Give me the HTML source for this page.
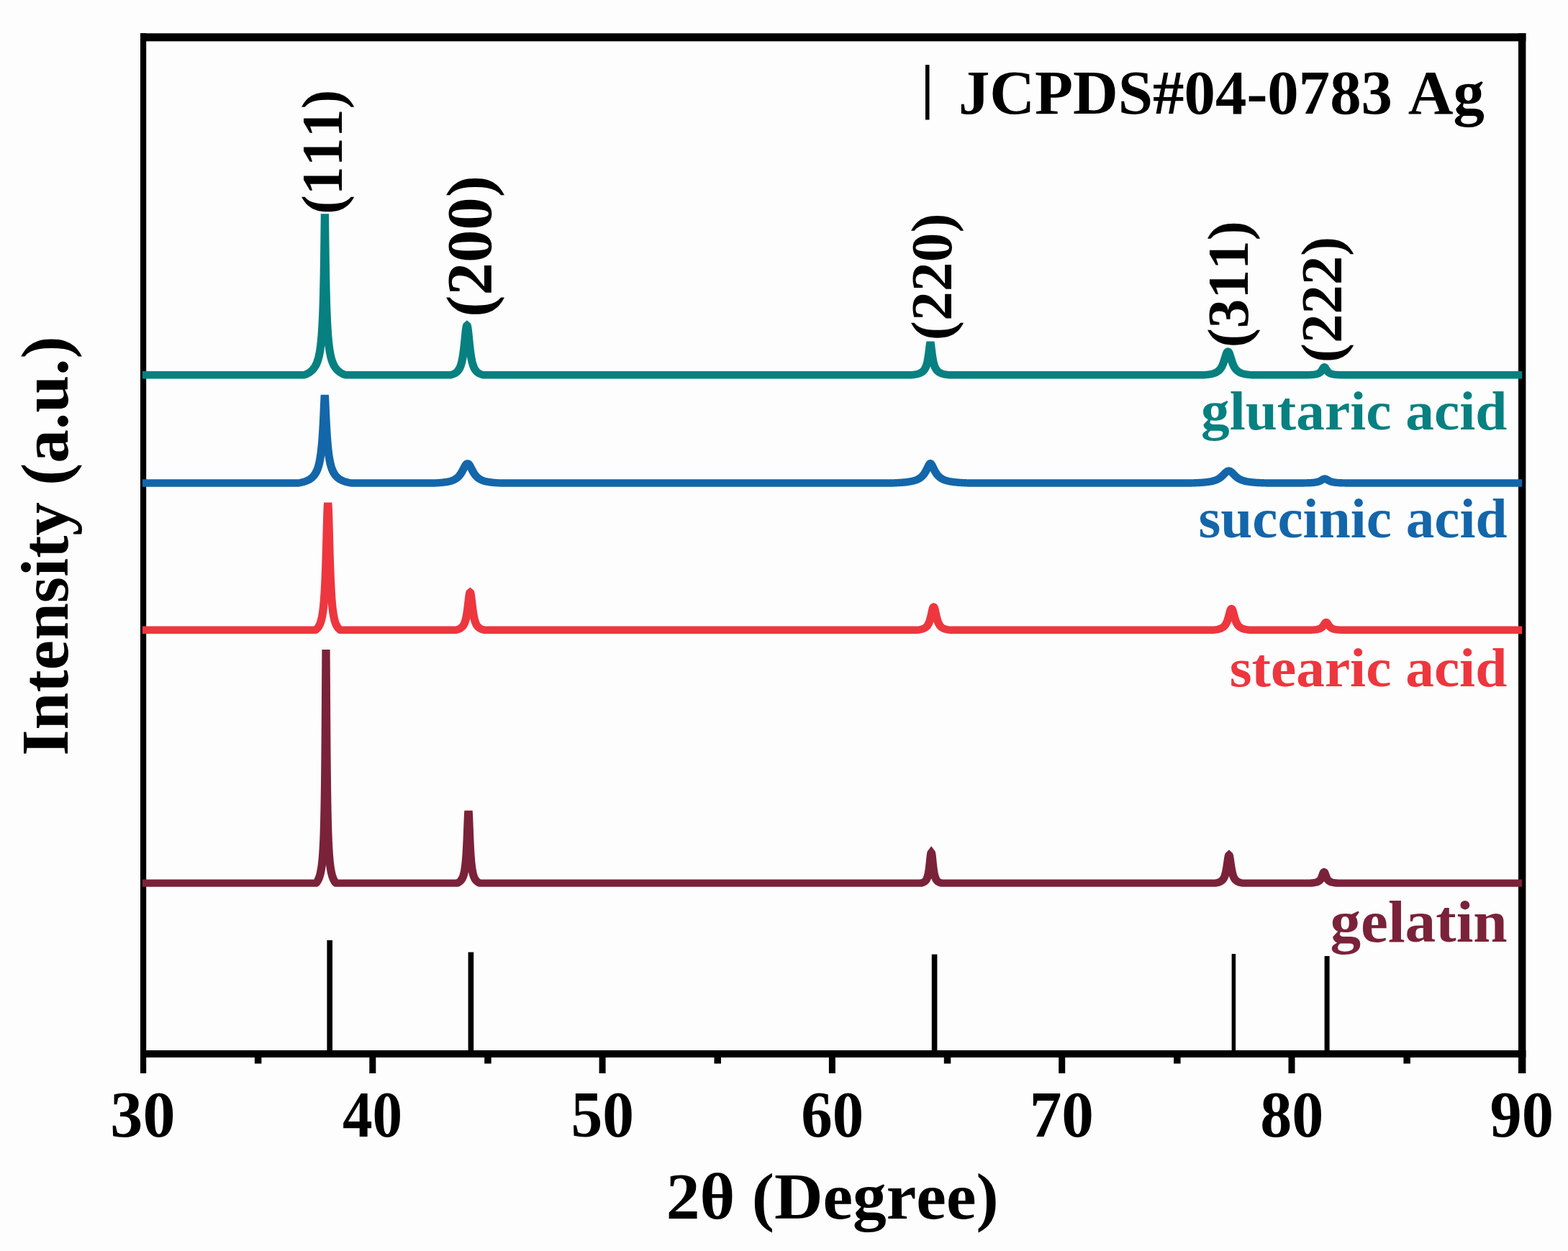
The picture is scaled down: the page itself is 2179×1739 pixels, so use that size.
<!DOCTYPE html>
<html lang="en">
<head>
<meta charset="utf-8">
<title>XRD patterns</title>
<style>
html,body{margin:0;padding:0;background:#fdfdfd;}
body{width:2179px;height:1739px;overflow:hidden;}
svg{display:block;}
svg text{font-family:"Liberation Serif", serif;font-weight:bold;font-size:100px;font-kerning:none;font-variant-ligatures:none;white-space:pre;}
</style>
</head>
<body>
<svg width="2179" height="1739" viewBox="0 0 2179 1739">
<rect width="2179" height="1739" fill="#fdfdfd"/>
<rect x="454.4" y="1307" width="7.6" height="155" fill="#000"/>
<rect x="650.6" y="1323.6" width="7.6" height="138.4" fill="#000"/>
<rect x="1294.8" y="1326.6" width="7.6" height="135.4" fill="#000"/>
<rect x="1711.65" y="1326" width="5.5" height="136" fill="#000"/>
<rect x="1840.6" y="1329" width="7" height="133" fill="#000"/>
<rect x="1286" y="90.1" width="5.5" height="76.4" fill="#000"/>
<rect x="195" y="46.3" width="8.2" height="1445.7" fill="#000"/>
<rect x="2110" y="46.3" width="10.4" height="1445.7" fill="#000"/>
<rect x="195" y="46.3" width="1925.4" height="11.1" fill="#000"/>
<rect x="195" y="1460" width="1925.4" height="10" fill="#000"/>
<rect x="513.3" y="1460" width="9" height="32" fill="#000"/>
<rect x="832.6" y="1460" width="9" height="32" fill="#000"/>
<rect x="1151.9" y="1460" width="9" height="32" fill="#000"/>
<rect x="1471.2" y="1460" width="9" height="32" fill="#000"/>
<rect x="1790.5" y="1460" width="9" height="32" fill="#000"/>
<rect x="353.9" y="1460" width="9.5" height="18.5" fill="#000"/>
<rect x="673.2" y="1460" width="9.5" height="18.5" fill="#000"/>
<rect x="992.5" y="1460" width="9.5" height="18.5" fill="#000"/>
<rect x="1311.8" y="1460" width="9.5" height="18.5" fill="#000"/>
<rect x="1631.1" y="1460" width="9.5" height="18.5" fill="#000"/>
<rect x="1950.4" y="1460" width="9.5" height="18.5" fill="#000"/>
<path d="M183.33 521.2 L391.11 521.2 L392.04 521.05 L392.96 520.66 L393.89 520.23 L394.81 519.77 L395.74 519.27 L396.67 518.72 L397.59 518.12 L398.52 517.46 L399.44 516.74 L400.37 515.94 L401.3 515.05 L402.22 514.05 L403.15 512.93 L404.07 511.65 L405 510.2 L405.93 508.53 L406.85 506.59 L407.08 506.05 L407.31 505.49 L407.55 504.91 L407.78 504.3 L408.01 503.67 L408.24 503.01 L408.47 502.31 L408.7 501.59 L408.94 500.83 L409.17 500.03 L409.4 499.19 L409.63 498.31 L409.86 497.38 L410.09 496.4 L410.32 495.37 L410.56 494.28 L410.79 493.12 L411.02 491.9 L411.25 490.6 L411.48 489.22 L411.71 487.75 L411.94 486.18 L412.18 484.5 L412.41 482.71 L412.64 480.78 L412.87 478.71 L413.1 476.48 L413.33 474.07 L413.56 471.45 L413.8 468.61 L414.03 465.52 L414.26 462.13 L414.49 458.42 L414.72 454.32 L414.95 449.8 L415.19 444.78 L415.42 439.17 L415.65 432.89 L415.88 425.81 L416.11 417.8 L416.34 408.68 L416.57 398.23 L416.81 386.21 L417.04 372.33 L417.27 356.28 L417.5 337.86 L417.73 317.25 L417.96 297.37 L418.19 317.25 L418.43 337.86 L418.66 356.28 L418.89 372.33 L419.12 386.21 L419.35 398.23 L419.58 408.68 L419.81 417.8 L420.05 425.81 L420.28 432.89 L420.51 439.17 L420.74 444.78 L420.97 449.8 L421.2 454.32 L421.44 458.42 L421.67 462.13 L421.9 465.52 L422.13 468.61 L422.36 471.45 L422.59 474.07 L422.82 476.48 L423.06 478.71 L423.29 480.78 L423.52 482.71 L423.75 484.5 L423.98 486.18 L424.21 487.75 L424.44 489.22 L424.68 490.6 L424.91 491.9 L425.14 493.12 L425.37 494.28 L425.6 495.37 L425.83 496.4 L426.06 497.38 L426.3 498.31 L426.53 499.19 L426.76 500.03 L426.99 500.83 L427.22 501.59 L427.45 502.31 L427.69 503.01 L427.92 503.67 L428.15 504.3 L428.38 504.91 L428.61 505.49 L428.84 506.05 L429.07 506.59 L430 508.53 L430.93 510.2 L431.85 511.65 L432.78 512.93 L433.7 514.05 L434.63 515.05 L435.56 515.94 L436.48 516.74 L437.41 517.46 L438.33 518.12 L439.26 518.72 L440.19 519.27 L441.11 519.77 L442.04 520.23 L442.96 520.66 L443.89 521.05 L444.81 521.2 L579.54 521.2 L580.46 521.05 L581.39 520.77 L582.31 520.44 L583.24 520.08 L584.17 519.65 L585.09 519.15 L586.02 518.56 L586.94 517.87 L587.87 517.04 L588.8 516.04 L589.72 514.83 L589.95 514.49 L590.19 514.12 L590.42 513.74 L590.65 513.34 L590.88 512.91 L591.11 512.46 L591.34 511.98 L591.57 511.48 L591.81 510.94 L592.04 510.38 L592.27 509.78 L592.5 509.14 L592.73 508.46 L592.96 507.74 L593.19 506.98 L593.43 506.16 L593.66 505.29 L593.89 504.37 L594.12 503.39 L594.35 502.34 L594.58 501.22 L594.81 500.03 L595.05 498.76 L595.28 497.41 L595.51 495.97 L595.74 494.43 L595.97 492.8 L596.2 491.07 L596.44 489.23 L596.67 487.3 L596.9 485.25 L597.13 483.1 L597.36 480.86 L597.59 478.52 L597.82 476.11 L598.06 473.63 L598.29 471.12 L598.52 468.6 L598.75 466.1 L598.98 463.66 L599.21 461.33 L599.44 459.17 L599.68 457.21 L599.91 455.53 L600.14 454.15 L600.37 453.14 L600.6 452.52 L600.83 452.31 L601.06 452.52 L601.3 453.14 L601.53 454.15 L601.76 455.53 L601.99 457.21 L602.22 459.17 L602.45 461.33 L602.69 463.66 L602.92 466.1 L603.15 468.6 L603.38 471.12 L603.61 473.63 L603.84 476.11 L604.07 478.52 L604.31 480.86 L604.54 483.1 L604.77 485.25 L605 487.3 L605.23 489.23 L605.46 491.07 L605.69 492.8 L605.93 494.43 L606.16 495.97 L606.39 497.41 L606.62 498.76 L606.85 500.03 L607.08 501.22 L607.31 502.34 L607.55 503.39 L607.78 504.37 L608.01 505.29 L608.24 506.16 L608.47 506.98 L608.7 507.74 L608.94 508.46 L609.17 509.14 L609.4 509.78 L609.63 510.38 L609.86 510.94 L610.09 511.48 L610.32 511.98 L610.56 512.46 L610.79 512.91 L611.02 513.34 L611.25 513.74 L611.48 514.12 L611.71 514.49 L611.94 514.83 L612.87 516.04 L613.8 517.04 L614.72 517.87 L615.65 518.56 L616.57 519.15 L617.5 519.65 L618.43 520.08 L619.35 520.44 L620.28 520.77 L621.2 521.05 L622.13 521.2 L1173.06 521.2 L1173.98 521.14 L1174.91 521.01 L1175.83 520.88 L1176.76 520.73 L1177.69 520.56 L1178.61 520.37 L1179.54 520.15 L1180.46 519.91 L1181.39 519.63 L1182.31 519.31 L1183.24 518.94 L1184.17 518.51 L1185.09 518.01 L1186.02 517.41 L1186.25 517.24 L1186.48 517.06 L1186.71 516.88 L1186.94 516.68 L1187.18 516.48 L1187.41 516.27 L1187.64 516.04 L1187.87 515.81 L1188.1 515.56 L1188.33 515.29 L1188.56 515.02 L1188.8 514.72 L1189.03 514.41 L1189.26 514.08 L1189.49 513.74 L1189.72 513.37 L1189.95 512.97 L1190.19 512.56 L1190.42 512.11 L1190.65 511.64 L1190.88 511.14 L1191.11 510.6 L1191.34 510.02 L1191.57 509.41 L1191.81 508.74 L1192.04 508.04 L1192.27 507.27 L1192.5 506.46 L1192.73 505.58 L1192.96 504.63 L1193.19 503.61 L1193.43 502.51 L1193.66 501.32 L1193.89 500.05 L1194.12 498.67 L1194.35 497.2 L1194.58 495.62 L1194.81 493.93 L1195.05 492.13 L1195.28 490.23 L1195.51 488.25 L1195.74 486.19 L1195.97 484.11 L1196.2 482.05 L1196.44 480.08 L1196.67 478.32 L1196.9 476.91 L1197.13 476.18 L1197.36 476.91 L1197.59 478.32 L1197.82 480.08 L1198.06 482.05 L1198.29 484.11 L1198.52 486.19 L1198.75 488.25 L1198.98 490.23 L1199.21 492.13 L1199.44 493.93 L1199.68 495.62 L1199.91 497.2 L1200.14 498.67 L1200.37 500.05 L1200.6 501.32 L1200.83 502.51 L1201.06 503.61 L1201.3 504.63 L1201.53 505.58 L1201.76 506.46 L1201.99 507.27 L1202.22 508.04 L1202.45 508.74 L1202.69 509.41 L1202.92 510.02 L1203.15 510.6 L1203.38 511.14 L1203.61 511.64 L1203.84 512.11 L1204.07 512.56 L1204.31 512.97 L1204.54 513.37 L1204.77 513.74 L1205 514.08 L1205.23 514.41 L1205.46 514.72 L1205.69 515.02 L1205.93 515.29 L1206.16 515.56 L1206.39 515.81 L1206.62 516.04 L1206.85 516.27 L1207.08 516.48 L1207.31 516.68 L1207.55 516.88 L1207.78 517.06 L1208.01 517.24 L1208.24 517.41 L1209.17 518.01 L1210.09 518.51 L1211.02 518.94 L1211.94 519.31 L1212.87 519.63 L1213.8 519.91 L1214.72 520.15 L1215.65 520.37 L1216.57 520.56 L1217.5 520.73 L1218.43 520.88 L1219.35 521.01 L1220.28 521.14 L1221.2 521.2 L1549.44 521.2 L1550.37 521.14 L1551.3 521.05 L1552.22 520.95 L1553.15 520.84 L1554.07 520.73 L1555 520.6 L1555.93 520.45 L1556.85 520.29 L1557.78 520.11 L1558.7 519.91 L1559.63 519.68 L1560.56 519.43 L1561.48 519.14 L1562.41 518.81 L1563.33 518.44 L1564.26 518 L1565.19 517.5 L1566.11 516.92 L1567.04 516.24 L1567.96 515.45 L1568.89 514.5 L1569.12 514.24 L1569.35 513.97 L1569.58 513.68 L1569.81 513.39 L1570.05 513.07 L1570.28 512.75 L1570.51 512.41 L1570.74 512.05 L1570.97 511.68 L1571.2 511.3 L1571.44 510.89 L1571.67 510.47 L1571.9 510.02 L1572.13 509.56 L1572.36 509.08 L1572.59 508.58 L1572.82 508.05 L1573.06 507.5 L1573.29 506.93 L1573.52 506.34 L1573.75 505.72 L1573.98 505.08 L1574.21 504.41 L1574.44 503.72 L1574.68 503.01 L1574.91 502.28 L1575.14 501.53 L1575.37 500.75 L1575.6 499.96 L1575.83 499.16 L1576.06 498.34 L1576.3 497.52 L1576.53 496.69 L1576.76 495.87 L1576.99 495.06 L1577.22 494.26 L1577.45 493.48 L1577.69 492.73 L1577.92 492.02 L1578.15 491.35 L1578.38 490.74 L1578.61 490.19 L1578.84 489.71 L1579.07 489.3 L1579.31 488.98 L1579.54 488.75 L1579.77 488.61 L1580 488.56 L1580.23 488.61 L1580.46 488.75 L1580.69 488.98 L1580.93 489.3 L1581.16 489.71 L1581.39 490.19 L1581.62 490.74 L1581.85 491.35 L1582.08 492.02 L1582.31 492.73 L1582.55 493.48 L1582.78 494.26 L1583.01 495.06 L1583.24 495.87 L1583.47 496.69 L1583.7 497.52 L1583.94 498.34 L1584.17 499.16 L1584.4 499.96 L1584.63 500.75 L1584.86 501.53 L1585.09 502.28 L1585.32 503.01 L1585.56 503.72 L1585.79 504.41 L1586.02 505.08 L1586.25 505.72 L1586.48 506.34 L1586.71 506.93 L1586.94 507.5 L1587.18 508.05 L1587.41 508.58 L1587.64 509.08 L1587.87 509.56 L1588.1 510.02 L1588.33 510.47 L1588.56 510.89 L1588.8 511.3 L1589.03 511.68 L1589.26 512.05 L1589.49 512.41 L1589.72 512.75 L1589.95 513.07 L1590.19 513.39 L1590.42 513.68 L1590.65 513.97 L1590.88 514.24 L1591.11 514.5 L1592.04 515.45 L1592.96 516.24 L1593.89 516.92 L1594.81 517.5 L1595.74 518 L1596.67 518.44 L1597.59 518.81 L1598.52 519.14 L1599.44 519.43 L1600.37 519.68 L1601.3 519.91 L1602.22 520.11 L1603.15 520.29 L1604.07 520.45 L1605 520.6 L1605.93 520.73 L1606.85 520.84 L1607.78 520.95 L1608.7 521.05 L1609.63 521.14 L1610.56 521.2 L1682.78 521.2 L1683.7 521.18 L1684.63 521.14 L1685.56 521.09 L1686.48 521.04 L1687.41 520.97 L1688.33 520.9 L1689.26 520.82 L1690.19 520.72 L1691.11 520.6 L1692.04 520.45 L1692.96 520.28 L1693.19 520.23 L1693.43 520.18 L1693.66 520.12 L1693.89 520.07 L1694.12 520.01 L1694.35 519.94 L1694.58 519.87 L1694.81 519.8 L1695.05 519.73 L1695.28 519.64 L1695.51 519.56 L1695.74 519.47 L1695.97 519.37 L1696.2 519.27 L1696.44 519.16 L1696.67 519.05 L1696.9 518.92 L1697.13 518.79 L1697.36 518.65 L1697.59 518.5 L1697.82 518.34 L1698.06 518.17 L1698.29 517.99 L1698.52 517.79 L1698.75 517.58 L1698.98 517.36 L1699.21 517.12 L1699.44 516.86 L1699.68 516.59 L1699.91 516.3 L1700.14 515.99 L1700.37 515.66 L1700.6 515.31 L1700.83 514.94 L1701.06 514.56 L1701.3 514.16 L1701.53 513.74 L1701.76 513.32 L1701.99 512.89 L1702.22 512.46 L1702.45 512.04 L1702.69 511.64 L1702.92 511.27 L1703.15 510.93 L1703.38 510.65 L1703.61 510.43 L1703.84 510.29 L1704.07 510.23 L1704.31 510.29 L1704.54 510.43 L1704.77 510.65 L1705 510.93 L1705.23 511.27 L1705.46 511.64 L1705.69 512.04 L1705.93 512.46 L1706.16 512.89 L1706.39 513.32 L1706.62 513.74 L1706.85 514.16 L1707.08 514.56 L1707.31 514.94 L1707.55 515.31 L1707.78 515.66 L1708.01 515.99 L1708.24 516.3 L1708.47 516.59 L1708.7 516.86 L1708.94 517.12 L1709.17 517.36 L1709.4 517.58 L1709.63 517.79 L1709.86 517.99 L1710.09 518.17 L1710.32 518.34 L1710.56 518.5 L1710.79 518.65 L1711.02 518.79 L1711.25 518.92 L1711.48 519.05 L1711.71 519.16 L1711.94 519.27 L1712.18 519.37 L1712.41 519.47 L1712.64 519.56 L1712.87 519.64 L1713.1 519.73 L1713.33 519.8 L1713.56 519.87 L1713.8 519.94 L1714.03 520.01 L1714.26 520.07 L1714.49 520.12 L1714.72 520.18 L1714.95 520.23 L1715.19 520.28 L1716.11 520.45 L1717.04 520.6 L1717.96 520.72 L1718.89 520.82 L1719.81 520.9 L1720.74 520.97 L1721.67 521.04 L1722.59 521.09 L1723.52 521.14 L1724.44 521.18 L1725.37 521.2 L1958.52 521.2" fill="none" stroke="#068080" stroke-width="10.4" stroke-linejoin="miter" stroke-miterlimit="3.0" stroke-linecap="butt" transform="scale(1.08 1)"/>
<path d="M183.33 671.5 L383.61 671.5 L384.54 671.42 L385.46 671.23 L386.39 671.02 L387.31 670.8 L388.24 670.57 L389.17 670.32 L390.09 670.05 L391.02 669.75 L391.94 669.44 L392.87 669.1 L393.8 668.73 L394.72 668.33 L395.65 667.89 L396.57 667.41 L397.5 666.88 L398.43 666.3 L399.35 665.65 L400.28 664.94 L401.2 664.13 L402.13 663.24 L403.06 662.22 L403.98 661.06 L404.91 659.74 L405.83 658.22 L406.76 656.44 L406.99 655.95 L407.22 655.44 L407.45 654.91 L407.69 654.36 L407.92 653.78 L408.15 653.17 L408.38 652.54 L408.61 651.88 L408.84 651.19 L409.07 650.47 L409.31 649.71 L409.54 648.91 L409.77 648.07 L410 647.19 L410.23 646.27 L410.46 645.29 L410.69 644.26 L410.93 643.18 L411.16 642.03 L411.39 640.82 L411.62 639.54 L411.85 638.18 L412.08 636.73 L412.31 635.2 L412.55 633.57 L412.78 631.84 L413.01 629.99 L413.24 628.01 L413.47 625.9 L413.7 623.65 L413.94 621.23 L414.17 618.64 L414.4 615.86 L414.63 612.88 L414.86 609.68 L415.09 606.24 L415.32 602.54 L415.56 598.57 L415.79 594.31 L416.02 589.76 L416.25 584.91 L416.48 579.76 L416.71 574.36 L416.94 568.76 L417.18 563.08 L417.41 557.51 L417.64 552.45 L417.87 548.97 L418.1 552.45 L418.33 557.51 L418.56 563.08 L418.8 568.76 L419.03 574.36 L419.26 579.76 L419.49 584.91 L419.72 589.76 L419.95 594.31 L420.19 598.57 L420.42 602.54 L420.65 606.24 L420.88 609.68 L421.11 612.88 L421.34 615.86 L421.57 618.64 L421.81 621.23 L422.04 623.65 L422.27 625.9 L422.5 628.01 L422.73 629.99 L422.96 631.84 L423.19 633.57 L423.43 635.2 L423.66 636.73 L423.89 638.18 L424.12 639.54 L424.35 640.82 L424.58 642.03 L424.81 643.18 L425.05 644.26 L425.28 645.29 L425.51 646.27 L425.74 647.19 L425.97 648.07 L426.2 648.91 L426.44 649.71 L426.67 650.47 L426.9 651.19 L427.13 651.88 L427.36 652.54 L427.59 653.17 L427.82 653.78 L428.06 654.36 L428.29 654.91 L428.52 655.44 L428.75 655.95 L428.98 656.44 L429.91 658.22 L430.83 659.74 L431.76 661.06 L432.69 662.22 L433.61 663.24 L434.54 664.13 L435.46 664.94 L436.39 665.65 L437.31 666.3 L438.24 666.88 L439.17 667.41 L440.09 667.89 L441.02 668.33 L441.94 668.73 L442.87 669.1 L443.8 669.44 L444.72 669.75 L445.65 670.05 L446.57 670.32 L447.5 670.57 L448.43 670.8 L449.35 671.02 L450.28 671.23 L451.2 671.42 L452.13 671.5 L558.98 671.5 L559.91 671.46 L560.83 671.4 L561.76 671.35 L562.69 671.29 L563.61 671.23 L564.54 671.16 L565.46 671.09 L566.39 671.01 L567.31 670.93 L568.24 670.84 L569.17 670.74 L570.09 670.63 L571.02 670.52 L571.94 670.4 L572.87 670.26 L573.8 670.12 L574.72 669.96 L575.65 669.78 L576.57 669.59 L577.5 669.38 L578.43 669.15 L579.35 668.89 L580.28 668.6 L581.2 668.29 L582.13 667.93 L583.06 667.54 L583.98 667.1 L584.91 666.6 L585.83 666.04 L586.76 665.41 L587.69 664.69 L588.61 663.88 L589.54 662.96 L590.46 661.91 L590.69 661.63 L590.93 661.34 L591.16 661.04 L591.39 660.73 L591.62 660.42 L591.85 660.09 L592.08 659.75 L592.31 659.4 L592.55 659.05 L592.78 658.68 L593.01 658.3 L593.24 657.92 L593.47 657.52 L593.7 657.11 L593.94 656.69 L594.17 656.27 L594.4 655.83 L594.63 655.39 L594.86 654.94 L595.09 654.47 L595.32 654.01 L595.56 653.53 L595.79 653.05 L596.02 652.57 L596.25 652.08 L596.48 651.59 L596.71 651.1 L596.94 650.61 L597.18 650.13 L597.41 649.65 L597.64 649.17 L597.87 648.7 L598.1 648.25 L598.33 647.81 L598.56 647.38 L598.8 646.98 L599.03 646.59 L599.26 646.23 L599.49 645.89 L599.72 645.58 L599.95 645.3 L600.19 645.05 L600.42 644.84 L600.65 644.67 L600.88 644.53 L601.11 644.43 L601.34 644.37 L601.57 644.35 L601.81 644.37 L602.04 644.43 L602.27 644.53 L602.5 644.67 L602.73 644.84 L602.96 645.05 L603.19 645.3 L603.43 645.58 L603.66 645.89 L603.89 646.23 L604.12 646.59 L604.35 646.98 L604.58 647.38 L604.81 647.81 L605.05 648.25 L605.28 648.7 L605.51 649.17 L605.74 649.65 L605.97 650.13 L606.2 650.61 L606.44 651.1 L606.67 651.59 L606.9 652.08 L607.13 652.57 L607.36 653.05 L607.59 653.53 L607.82 654.01 L608.06 654.47 L608.29 654.94 L608.52 655.39 L608.75 655.83 L608.98 656.27 L609.21 656.69 L609.44 657.11 L609.68 657.52 L609.91 657.92 L610.14 658.3 L610.37 658.68 L610.6 659.05 L610.83 659.4 L611.06 659.75 L611.3 660.09 L611.53 660.42 L611.76 660.73 L611.99 661.04 L612.22 661.34 L612.45 661.63 L612.69 661.91 L613.61 662.96 L614.54 663.88 L615.46 664.69 L616.39 665.41 L617.31 666.04 L618.24 666.6 L619.17 667.1 L620.09 667.54 L621.02 667.93 L621.94 668.29 L622.87 668.6 L623.8 668.89 L624.72 669.15 L625.65 669.38 L626.57 669.59 L627.5 669.78 L628.43 669.96 L629.35 670.12 L630.28 670.26 L631.2 670.4 L632.13 670.52 L633.06 670.63 L633.98 670.74 L634.91 670.84 L635.83 670.93 L636.76 671.01 L637.69 671.09 L638.61 671.16 L639.54 671.23 L640.46 671.29 L641.39 671.35 L642.31 671.4 L643.24 671.46 L644.17 671.5 L1146.2 671.5 L1147.13 671.5 L1148.06 671.46 L1148.98 671.43 L1149.91 671.39 L1150.83 671.35 L1151.76 671.3 L1152.69 671.26 L1153.61 671.21 L1154.54 671.16 L1155.46 671.1 L1156.39 671.05 L1157.31 670.99 L1158.24 670.92 L1159.17 670.86 L1160.09 670.78 L1161.02 670.71 L1161.94 670.63 L1162.87 670.54 L1163.8 670.45 L1164.72 670.35 L1165.65 670.24 L1166.57 670.13 L1167.5 670 L1168.43 669.87 L1169.35 669.73 L1170.28 669.57 L1171.2 669.4 L1172.13 669.22 L1173.06 669.02 L1173.98 668.8 L1174.91 668.56 L1175.83 668.3 L1176.76 668.02 L1177.69 667.7 L1178.61 667.35 L1179.54 666.96 L1180.46 666.53 L1181.39 666.05 L1182.31 665.51 L1183.24 664.9 L1184.17 664.22 L1185.09 663.45 L1186.02 662.58 L1186.25 662.34 L1186.48 662.1 L1186.71 661.85 L1186.94 661.59 L1187.18 661.32 L1187.41 661.04 L1187.64 660.76 L1187.87 660.47 L1188.1 660.16 L1188.33 659.85 L1188.56 659.53 L1188.8 659.2 L1189.03 658.85 L1189.26 658.5 L1189.49 658.14 L1189.72 657.76 L1189.95 657.38 L1190.19 656.98 L1190.42 656.57 L1190.65 656.15 L1190.88 655.72 L1191.11 655.28 L1191.34 654.83 L1191.57 654.37 L1191.81 653.89 L1192.04 653.41 L1192.27 652.92 L1192.5 652.42 L1192.73 651.92 L1192.96 651.4 L1193.19 650.89 L1193.43 650.37 L1193.66 649.85 L1193.89 649.33 L1194.12 648.81 L1194.35 648.3 L1194.58 647.8 L1194.81 647.31 L1195.05 646.83 L1195.28 646.38 L1195.51 645.95 L1195.74 645.55 L1195.97 645.18 L1196.2 644.86 L1196.44 644.58 L1196.67 644.36 L1196.9 644.2 L1197.13 644.13 L1197.36 644.2 L1197.59 644.36 L1197.82 644.58 L1198.06 644.86 L1198.29 645.18 L1198.52 645.55 L1198.75 645.95 L1198.98 646.38 L1199.21 646.83 L1199.44 647.31 L1199.68 647.8 L1199.91 648.3 L1200.14 648.81 L1200.37 649.33 L1200.6 649.85 L1200.83 650.37 L1201.06 650.89 L1201.3 651.4 L1201.53 651.92 L1201.76 652.42 L1201.99 652.92 L1202.22 653.41 L1202.45 653.89 L1202.69 654.37 L1202.92 654.83 L1203.15 655.28 L1203.38 655.72 L1203.61 656.15 L1203.84 656.57 L1204.07 656.98 L1204.31 657.38 L1204.54 657.76 L1204.77 658.14 L1205 658.5 L1205.23 658.85 L1205.46 659.2 L1205.69 659.53 L1205.93 659.85 L1206.16 660.16 L1206.39 660.47 L1206.62 660.76 L1206.85 661.04 L1207.08 661.32 L1207.31 661.59 L1207.55 661.85 L1207.78 662.1 L1208.01 662.34 L1208.24 662.58 L1209.17 663.45 L1210.09 664.22 L1211.02 664.9 L1211.94 665.51 L1212.87 666.05 L1213.8 666.53 L1214.72 666.96 L1215.65 667.35 L1216.57 667.7 L1217.5 668.02 L1218.43 668.3 L1219.35 668.56 L1220.28 668.8 L1221.2 669.02 L1222.13 669.22 L1223.06 669.4 L1223.98 669.57 L1224.91 669.73 L1225.83 669.87 L1226.76 670 L1227.69 670.13 L1228.61 670.24 L1229.54 670.35 L1230.46 670.45 L1231.39 670.54 L1232.31 670.63 L1233.24 670.71 L1234.17 670.78 L1235.09 670.86 L1236.02 670.92 L1236.94 670.99 L1237.87 671.05 L1238.8 671.1 L1239.72 671.16 L1240.65 671.21 L1241.57 671.26 L1242.5 671.3 L1243.43 671.35 L1244.35 671.39 L1245.28 671.43 L1246.2 671.46 L1247.13 671.5 L1248.06 671.5 L1530.19 671.5 L1531.11 671.49 L1532.04 671.47 L1532.96 671.44 L1533.89 671.41 L1534.81 671.38 L1535.74 671.35 L1536.67 671.31 L1537.59 671.28 L1538.52 671.24 L1539.44 671.2 L1540.37 671.15 L1541.3 671.11 L1542.22 671.06 L1543.15 671 L1544.07 670.95 L1545 670.89 L1545.93 670.82 L1546.85 670.75 L1547.78 670.68 L1548.7 670.6 L1549.63 670.51 L1550.56 670.42 L1551.48 670.31 L1552.41 670.2 L1553.33 670.08 L1554.26 669.95 L1555.19 669.81 L1556.11 669.66 L1557.04 669.49 L1557.96 669.3 L1558.89 669.1 L1559.81 668.88 L1560.74 668.63 L1561.67 668.36 L1562.59 668.06 L1563.52 667.72 L1564.44 667.35 L1565.37 666.94 L1566.3 666.48 L1567.22 665.97 L1568.15 665.4 L1569.07 664.77 L1570 664.08 L1570.23 663.89 L1570.46 663.7 L1570.69 663.51 L1570.93 663.31 L1571.16 663.11 L1571.39 662.9 L1571.62 662.69 L1571.85 662.47 L1572.08 662.25 L1572.31 662.03 L1572.55 661.8 L1572.78 661.57 L1573.01 661.33 L1573.24 661.09 L1573.47 660.84 L1573.7 660.6 L1573.94 660.35 L1574.17 660.1 L1574.4 659.84 L1574.63 659.59 L1574.86 659.33 L1575.09 659.07 L1575.32 658.81 L1575.56 658.55 L1575.79 658.3 L1576.02 658.04 L1576.25 657.79 L1576.48 657.54 L1576.71 657.29 L1576.94 657.05 L1577.18 656.82 L1577.41 656.59 L1577.64 656.37 L1577.87 656.15 L1578.1 655.95 L1578.33 655.76 L1578.56 655.58 L1578.8 655.41 L1579.03 655.25 L1579.26 655.11 L1579.49 654.98 L1579.72 654.87 L1579.95 654.78 L1580.19 654.7 L1580.42 654.64 L1580.65 654.59 L1580.88 654.56 L1581.11 654.56 L1581.34 654.56 L1581.57 654.59 L1581.81 654.64 L1582.04 654.7 L1582.27 654.78 L1582.5 654.87 L1582.73 654.98 L1582.96 655.11 L1583.19 655.25 L1583.43 655.41 L1583.66 655.58 L1583.89 655.76 L1584.12 655.95 L1584.35 656.15 L1584.58 656.37 L1584.81 656.59 L1585.05 656.82 L1585.28 657.05 L1585.51 657.29 L1585.74 657.54 L1585.97 657.79 L1586.2 658.04 L1586.44 658.3 L1586.67 658.55 L1586.9 658.81 L1587.13 659.07 L1587.36 659.33 L1587.59 659.59 L1587.82 659.84 L1588.06 660.1 L1588.29 660.35 L1588.52 660.6 L1588.75 660.84 L1588.98 661.09 L1589.21 661.33 L1589.44 661.57 L1589.68 661.8 L1589.91 662.03 L1590.14 662.25 L1590.37 662.47 L1590.6 662.69 L1590.83 662.9 L1591.06 663.11 L1591.3 663.31 L1591.53 663.51 L1591.76 663.7 L1591.99 663.89 L1592.22 664.08 L1593.15 664.77 L1594.07 665.4 L1595 665.97 L1595.93 666.48 L1596.85 666.94 L1597.78 667.35 L1598.7 667.72 L1599.63 668.06 L1600.56 668.36 L1601.48 668.63 L1602.41 668.88 L1603.33 669.1 L1604.26 669.3 L1605.19 669.49 L1606.11 669.66 L1607.04 669.81 L1607.96 669.95 L1608.89 670.08 L1609.81 670.2 L1610.74 670.31 L1611.67 670.42 L1612.59 670.51 L1613.52 670.6 L1614.44 670.68 L1615.37 670.75 L1616.3 670.82 L1617.22 670.89 L1618.15 670.95 L1619.07 671 L1620 671.06 L1620.93 671.11 L1621.85 671.15 L1622.78 671.2 L1623.7 671.24 L1624.63 671.28 L1625.56 671.31 L1626.48 671.35 L1627.41 671.38 L1628.33 671.41 L1629.26 671.44 L1630.19 671.47 L1631.11 671.49 L1632.04 671.5 L1674.07 671.5 L1675 671.5 L1675.93 671.48 L1676.85 671.46 L1677.78 671.44 L1678.7 671.42 L1679.63 671.4 L1680.56 671.37 L1681.48 671.35 L1682.41 671.31 L1683.33 671.28 L1684.26 671.24 L1685.19 671.19 L1686.11 671.14 L1687.04 671.08 L1687.96 671.02 L1688.89 670.94 L1689.81 670.85 L1690.74 670.75 L1691.67 670.63 L1692.59 670.48 L1693.52 670.31 L1693.75 670.27 L1693.98 670.22 L1694.21 670.17 L1694.44 670.11 L1694.68 670.06 L1694.91 670 L1695.14 669.94 L1695.37 669.88 L1695.6 669.81 L1695.83 669.74 L1696.06 669.67 L1696.3 669.59 L1696.53 669.51 L1696.76 669.43 L1696.99 669.34 L1697.22 669.25 L1697.45 669.15 L1697.69 669.05 L1697.92 668.95 L1698.15 668.84 L1698.38 668.73 L1698.61 668.61 L1698.84 668.49 L1699.07 668.36 L1699.31 668.23 L1699.54 668.1 L1699.77 667.96 L1700 667.82 L1700.23 667.67 L1700.46 667.53 L1700.69 667.38 L1700.93 667.22 L1701.16 667.07 L1701.39 666.92 L1701.62 666.77 L1701.85 666.62 L1702.08 666.47 L1702.31 666.33 L1702.55 666.2 L1702.78 666.08 L1703.01 665.96 L1703.24 665.86 L1703.47 665.77 L1703.7 665.69 L1703.94 665.63 L1704.17 665.59 L1704.4 665.56 L1704.63 665.55 L1704.86 665.56 L1705.09 665.59 L1705.32 665.63 L1705.56 665.69 L1705.79 665.77 L1706.02 665.86 L1706.25 665.96 L1706.48 666.08 L1706.71 666.2 L1706.94 666.33 L1707.18 666.47 L1707.41 666.62 L1707.64 666.77 L1707.87 666.92 L1708.1 667.07 L1708.33 667.22 L1708.56 667.38 L1708.8 667.53 L1709.03 667.67 L1709.26 667.82 L1709.49 667.96 L1709.72 668.1 L1709.95 668.23 L1710.19 668.36 L1710.42 668.49 L1710.65 668.61 L1710.88 668.73 L1711.11 668.84 L1711.34 668.95 L1711.57 669.05 L1711.81 669.15 L1712.04 669.25 L1712.27 669.34 L1712.5 669.43 L1712.73 669.51 L1712.96 669.59 L1713.19 669.67 L1713.43 669.74 L1713.66 669.81 L1713.89 669.88 L1714.12 669.94 L1714.35 670 L1714.58 670.06 L1714.81 670.11 L1715.05 670.17 L1715.28 670.22 L1715.51 670.27 L1715.74 670.31 L1716.67 670.48 L1717.59 670.63 L1718.52 670.75 L1719.44 670.85 L1720.37 670.94 L1721.3 671.02 L1722.22 671.08 L1723.15 671.14 L1724.07 671.19 L1725 671.24 L1725.93 671.28 L1726.85 671.31 L1727.78 671.35 L1728.7 671.37 L1729.63 671.4 L1730.56 671.42 L1731.48 671.44 L1732.41 671.46 L1733.33 671.48 L1734.26 671.5 L1735.19 671.5 L1958.52 671.5" fill="none" stroke="#1366aa" stroke-width="10.4" stroke-linejoin="miter" stroke-miterlimit="3.0" stroke-linecap="butt" transform="scale(1.08 1)"/>
<path d="M183.33 875.8 L405.28 875.8 L406.2 875.75 L407.13 874.9 L408.06 873.9 L408.98 872.71 L409.91 871.27 L410.83 869.51 L411.06 869 L411.3 868.47 L411.53 867.91 L411.76 867.32 L411.99 866.69 L412.22 866.02 L412.45 865.31 L412.69 864.56 L412.92 863.76 L413.15 862.9 L413.38 861.99 L413.61 861.02 L413.84 859.98 L414.07 858.87 L414.31 857.68 L414.54 856.39 L414.77 855.02 L415 853.53 L415.23 851.94 L415.46 850.21 L415.69 848.34 L415.93 846.32 L416.16 844.13 L416.39 841.74 L416.62 839.15 L416.85 836.33 L417.08 833.25 L417.31 829.88 L417.55 826.21 L417.78 822.18 L418.01 817.78 L418.24 812.96 L418.47 807.69 L418.7 801.93 L418.94 795.64 L419.17 788.81 L419.4 781.42 L419.63 773.46 L419.86 764.99 L420.09 756.06 L420.32 746.81 L420.56 737.43 L420.79 728.2 L421.02 719.46 L421.25 711.67 L421.48 705.34 L421.71 701 L421.94 699.29 L422.18 701 L422.41 705.34 L422.64 711.67 L422.87 719.46 L423.1 728.2 L423.33 737.43 L423.56 746.81 L423.8 756.06 L424.03 764.99 L424.26 773.46 L424.49 781.42 L424.72 788.81 L424.95 795.64 L425.19 801.93 L425.42 807.69 L425.65 812.96 L425.88 817.78 L426.11 822.18 L426.34 826.21 L426.57 829.88 L426.81 833.25 L427.04 836.33 L427.27 839.15 L427.5 841.74 L427.73 844.13 L427.96 846.32 L428.19 848.34 L428.43 850.21 L428.66 851.94 L428.89 853.53 L429.12 855.02 L429.35 856.39 L429.58 857.68 L429.81 858.87 L430.05 859.98 L430.28 861.02 L430.51 861.99 L430.74 862.9 L430.97 863.76 L431.2 864.56 L431.44 865.31 L431.67 866.02 L431.9 866.69 L432.13 867.32 L432.36 867.91 L432.59 868.47 L432.82 869 L433.06 869.51 L433.98 871.27 L434.91 872.71 L435.83 873.9 L436.76 874.9 L437.69 875.75 L438.61 875.8 L586.39 875.8 L587.31 875.59 L588.24 875.33 L589.17 875.02 L590.09 874.66 L591.02 874.24 L591.94 873.73 L592.87 873.11 L593.8 872.35 L594.03 872.13 L594.26 871.9 L594.49 871.66 L594.72 871.4 L594.95 871.13 L595.19 870.85 L595.42 870.54 L595.65 870.22 L595.88 869.87 L596.11 869.51 L596.34 869.12 L596.57 868.71 L596.81 868.26 L597.04 867.79 L597.27 867.29 L597.5 866.75 L597.73 866.17 L597.96 865.55 L598.19 864.89 L598.43 864.18 L598.66 863.41 L598.89 862.59 L599.12 861.71 L599.35 860.76 L599.58 859.74 L599.81 858.65 L600.05 857.47 L600.28 856.21 L600.51 854.85 L600.74 853.4 L600.97 851.84 L601.2 850.19 L601.44 848.43 L601.67 846.57 L601.9 844.62 L602.13 842.58 L602.36 840.47 L602.59 838.32 L602.82 836.14 L603.06 833.98 L603.29 831.88 L603.52 829.89 L603.75 828.06 L603.98 826.47 L604.21 825.15 L604.44 824.17 L604.68 823.56 L604.91 823.36 L605.14 823.56 L605.37 824.17 L605.6 825.15 L605.83 826.47 L606.06 828.06 L606.3 829.89 L606.53 831.88 L606.76 833.98 L606.99 836.14 L607.22 838.32 L607.45 840.47 L607.69 842.58 L607.92 844.62 L608.15 846.57 L608.38 848.43 L608.61 850.19 L608.84 851.84 L609.07 853.4 L609.31 854.85 L609.54 856.21 L609.77 857.47 L610 858.65 L610.23 859.74 L610.46 860.76 L610.69 861.71 L610.93 862.59 L611.16 863.41 L611.39 864.18 L611.62 864.89 L611.85 865.55 L612.08 866.17 L612.31 866.75 L612.55 867.29 L612.78 867.79 L613.01 868.26 L613.24 868.71 L613.47 869.12 L613.7 869.51 L613.94 869.87 L614.17 870.22 L614.4 870.54 L614.63 870.85 L614.86 871.13 L615.09 871.4 L615.32 871.66 L615.56 871.9 L615.79 872.13 L616.02 872.35 L616.94 873.11 L617.87 873.73 L618.8 874.24 L619.72 874.66 L620.65 875.02 L621.57 875.33 L622.5 875.59 L623.43 875.8 L1180.09 875.8 L1181.02 875.7 L1181.94 875.56 L1182.87 875.41 L1183.8 875.23 L1184.72 875.03 L1185.65 874.79 L1186.57 874.51 L1187.5 874.18 L1188.43 873.79 L1189.35 873.31 L1190.28 872.74 L1190.51 872.57 L1190.74 872.4 L1190.97 872.22 L1191.2 872.03 L1191.44 871.83 L1191.67 871.61 L1191.9 871.39 L1192.13 871.15 L1192.36 870.89 L1192.59 870.62 L1192.82 870.34 L1193.06 870.04 L1193.29 869.72 L1193.52 869.38 L1193.75 869.02 L1193.98 868.63 L1194.21 868.22 L1194.44 867.79 L1194.68 867.32 L1194.91 866.83 L1195.14 866.3 L1195.37 865.74 L1195.6 865.14 L1195.83 864.51 L1196.06 863.83 L1196.3 863.11 L1196.53 862.35 L1196.76 861.54 L1196.99 860.68 L1197.22 859.77 L1197.45 858.82 L1197.69 857.82 L1197.92 856.78 L1198.15 855.69 L1198.38 854.57 L1198.61 853.43 L1198.84 852.27 L1199.07 851.1 L1199.31 849.95 L1199.54 848.83 L1199.77 847.76 L1200 846.77 L1200.23 845.87 L1200.46 845.1 L1200.69 844.47 L1200.93 844.01 L1201.16 843.73 L1201.39 843.63 L1201.62 843.73 L1201.85 844.01 L1202.08 844.47 L1202.31 845.1 L1202.55 845.87 L1202.78 846.77 L1203.01 847.76 L1203.24 848.83 L1203.47 849.95 L1203.7 851.1 L1203.94 852.27 L1204.17 853.43 L1204.4 854.57 L1204.63 855.69 L1204.86 856.78 L1205.09 857.82 L1205.32 858.82 L1205.56 859.77 L1205.79 860.68 L1206.02 861.54 L1206.25 862.35 L1206.48 863.11 L1206.71 863.83 L1206.94 864.51 L1207.18 865.14 L1207.41 865.74 L1207.64 866.3 L1207.87 866.83 L1208.1 867.32 L1208.33 867.79 L1208.56 868.22 L1208.8 868.63 L1209.03 869.02 L1209.26 869.38 L1209.49 869.72 L1209.72 870.04 L1209.95 870.34 L1210.19 870.62 L1210.42 870.89 L1210.65 871.15 L1210.88 871.39 L1211.11 871.61 L1211.34 871.83 L1211.57 872.03 L1211.81 872.22 L1212.04 872.4 L1212.27 872.57 L1212.5 872.74 L1213.43 873.31 L1214.35 873.79 L1215.28 874.18 L1216.2 874.51 L1217.13 874.79 L1218.06 875.03 L1218.98 875.23 L1219.91 875.41 L1220.83 875.56 L1221.76 875.7 L1222.69 875.8 L1560.56 875.8 L1561.48 875.73 L1562.41 875.62 L1563.33 875.51 L1564.26 875.37 L1565.19 875.22 L1566.11 875.04 L1567.04 874.84 L1567.96 874.61 L1568.89 874.34 L1569.81 874.03 L1570.74 873.66 L1571.67 873.22 L1572.59 872.7 L1573.52 872.07 L1573.75 871.89 L1573.98 871.7 L1574.21 871.5 L1574.44 871.3 L1574.68 871.08 L1574.91 870.85 L1575.14 870.61 L1575.37 870.35 L1575.6 870.08 L1575.83 869.8 L1576.06 869.5 L1576.3 869.18 L1576.53 868.84 L1576.76 868.49 L1576.99 868.12 L1577.22 867.72 L1577.45 867.3 L1577.69 866.86 L1577.92 866.39 L1578.15 865.89 L1578.38 865.37 L1578.61 864.82 L1578.84 864.23 L1579.07 863.62 L1579.31 862.96 L1579.54 862.28 L1579.77 861.56 L1580 860.81 L1580.23 860.02 L1580.46 859.19 L1580.69 858.34 L1580.93 857.45 L1581.16 856.54 L1581.39 855.61 L1581.62 854.66 L1581.85 853.7 L1582.08 852.75 L1582.31 851.8 L1582.55 850.88 L1582.78 850 L1583.01 849.18 L1583.24 848.42 L1583.47 847.74 L1583.7 847.16 L1583.94 846.7 L1584.17 846.36 L1584.4 846.15 L1584.63 846.08 L1584.86 846.15 L1585.09 846.36 L1585.32 846.7 L1585.56 847.16 L1585.79 847.74 L1586.02 848.42 L1586.25 849.18 L1586.48 850 L1586.71 850.88 L1586.94 851.8 L1587.18 852.75 L1587.41 853.7 L1587.64 854.66 L1587.87 855.61 L1588.1 856.54 L1588.33 857.45 L1588.56 858.34 L1588.8 859.19 L1589.03 860.02 L1589.26 860.81 L1589.49 861.56 L1589.72 862.28 L1589.95 862.96 L1590.19 863.62 L1590.42 864.23 L1590.65 864.82 L1590.88 865.37 L1591.11 865.89 L1591.34 866.39 L1591.57 866.86 L1591.81 867.3 L1592.04 867.72 L1592.27 868.12 L1592.5 868.49 L1592.73 868.84 L1592.96 869.18 L1593.19 869.5 L1593.43 869.8 L1593.66 870.08 L1593.89 870.35 L1594.12 870.61 L1594.35 870.85 L1594.58 871.08 L1594.81 871.3 L1595.05 871.5 L1595.28 871.7 L1595.51 871.89 L1595.74 872.07 L1596.67 872.7 L1597.59 873.22 L1598.52 873.66 L1599.44 874.03 L1600.37 874.34 L1601.3 874.61 L1602.22 874.84 L1603.15 875.04 L1604.07 875.22 L1605 875.37 L1605.93 875.51 L1606.85 875.62 L1607.78 875.73 L1608.7 875.8 L1685.09 875.8 L1686.02 875.79 L1686.94 875.74 L1687.87 875.69 L1688.8 875.64 L1689.72 875.57 L1690.65 875.5 L1691.57 875.41 L1692.5 875.3 L1693.43 875.17 L1694.35 875.02 L1695.28 874.83 L1695.51 874.78 L1695.74 874.72 L1695.97 874.67 L1696.2 874.6 L1696.44 874.54 L1696.67 874.47 L1696.9 874.39 L1697.13 874.32 L1697.36 874.23 L1697.59 874.15 L1697.82 874.05 L1698.06 873.96 L1698.29 873.85 L1698.52 873.74 L1698.75 873.62 L1698.98 873.5 L1699.21 873.36 L1699.44 873.22 L1699.68 873.07 L1699.91 872.91 L1700.14 872.73 L1700.37 872.55 L1700.6 872.35 L1700.83 872.14 L1701.06 871.92 L1701.3 871.68 L1701.53 871.42 L1701.76 871.15 L1701.99 870.87 L1702.22 870.56 L1702.45 870.24 L1702.69 869.91 L1702.92 869.55 L1703.15 869.19 L1703.38 868.81 L1703.61 868.42 L1703.84 868.02 L1704.07 867.62 L1704.31 867.22 L1704.54 866.84 L1704.77 866.47 L1705 866.12 L1705.23 865.81 L1705.46 865.54 L1705.69 865.32 L1705.93 865.16 L1706.16 865.06 L1706.39 865.03 L1706.62 865.06 L1706.85 865.16 L1707.08 865.32 L1707.31 865.54 L1707.55 865.81 L1707.78 866.12 L1708.01 866.47 L1708.24 866.84 L1708.47 867.22 L1708.7 867.62 L1708.94 868.02 L1709.17 868.42 L1709.4 868.81 L1709.63 869.19 L1709.86 869.55 L1710.09 869.91 L1710.32 870.24 L1710.56 870.56 L1710.79 870.87 L1711.02 871.15 L1711.25 871.42 L1711.48 871.68 L1711.71 871.92 L1711.94 872.14 L1712.18 872.35 L1712.41 872.55 L1712.64 872.73 L1712.87 872.91 L1713.1 873.07 L1713.33 873.22 L1713.56 873.36 L1713.8 873.5 L1714.03 873.62 L1714.26 873.74 L1714.49 873.85 L1714.72 873.96 L1714.95 874.05 L1715.19 874.15 L1715.42 874.23 L1715.65 874.32 L1715.88 874.39 L1716.11 874.47 L1716.34 874.54 L1716.57 874.6 L1716.81 874.67 L1717.04 874.72 L1717.27 874.78 L1717.5 874.83 L1718.43 875.02 L1719.35 875.17 L1720.28 875.3 L1721.2 875.41 L1722.13 875.5 L1723.06 875.57 L1723.98 875.64 L1724.91 875.69 L1725.83 875.74 L1726.76 875.79 L1727.69 875.8 L1958.52 875.8" fill="none" stroke="#ee363e" stroke-width="10.4" stroke-linejoin="miter" stroke-miterlimit="3.0" stroke-linecap="butt" transform="scale(1.08 1)"/>
<path d="M183.33 1227.6 L406.48 1227.6 L407.41 1226.78 L408.33 1225.27 L408.56 1224.85 L408.8 1224.41 L409.03 1223.95 L409.26 1223.46 L409.49 1222.95 L409.72 1222.42 L409.95 1221.85 L410.19 1221.26 L410.42 1220.63 L410.65 1219.96 L410.88 1219.26 L411.11 1218.52 L411.34 1217.73 L411.57 1216.89 L411.81 1215.99 L412.04 1215.04 L412.27 1214.02 L412.5 1212.94 L412.73 1211.77 L412.96 1210.51 L413.19 1209.16 L413.43 1207.71 L413.66 1206.13 L413.89 1204.42 L414.12 1202.56 L414.35 1200.52 L414.58 1198.3 L414.81 1195.86 L415.05 1193.16 L415.28 1190.17 L415.51 1186.85 L415.74 1183.14 L415.97 1178.97 L416.2 1174.26 L416.44 1168.91 L416.67 1162.79 L416.9 1155.73 L417.13 1147.53 L417.36 1137.92 L417.59 1126.55 L417.82 1112.97 L418.06 1096.58 L418.29 1076.6 L418.52 1052.02 L418.75 1021.69 L418.98 984.64 L419.21 941.53 L419.44 903.05 L419.68 941.53 L419.91 984.64 L420.14 1021.69 L420.37 1052.02 L420.6 1076.6 L420.83 1096.58 L421.06 1112.97 L421.3 1126.55 L421.53 1137.92 L421.76 1147.53 L421.99 1155.73 L422.22 1162.79 L422.45 1168.91 L422.69 1174.26 L422.92 1178.97 L423.15 1183.14 L423.38 1186.85 L423.61 1190.17 L423.84 1193.16 L424.07 1195.86 L424.31 1198.3 L424.54 1200.52 L424.77 1202.56 L425 1204.42 L425.23 1206.13 L425.46 1207.71 L425.69 1209.16 L425.93 1210.51 L426.16 1211.77 L426.39 1212.94 L426.62 1214.02 L426.85 1215.04 L427.08 1215.99 L427.31 1216.89 L427.55 1217.73 L427.78 1218.52 L428.01 1219.26 L428.24 1219.96 L428.47 1220.63 L428.7 1221.26 L428.94 1221.85 L429.17 1222.42 L429.4 1222.95 L429.63 1223.46 L429.86 1223.95 L430.09 1224.41 L430.32 1224.85 L430.56 1225.27 L431.48 1226.78 L432.41 1227.6 L587.96 1227.6 L588.89 1227.34 L589.81 1226.81 L590.74 1226.17 L591.67 1225.39 L591.9 1225.17 L592.13 1224.94 L592.36 1224.7 L592.59 1224.44 L592.82 1224.16 L593.06 1223.87 L593.29 1223.57 L593.52 1223.24 L593.75 1222.89 L593.98 1222.52 L594.21 1222.13 L594.44 1221.71 L594.68 1221.26 L594.91 1220.78 L595.14 1220.27 L595.37 1219.72 L595.6 1219.12 L595.83 1218.48 L596.06 1217.79 L596.3 1217.05 L596.53 1216.24 L596.76 1215.36 L596.99 1214.41 L597.22 1213.37 L597.45 1212.24 L597.69 1210.99 L597.92 1209.63 L598.15 1208.14 L598.38 1206.49 L598.61 1204.67 L598.84 1202.65 L599.07 1200.42 L599.31 1197.93 L599.54 1195.17 L599.77 1192.09 L600 1188.66 L600.23 1184.83 L600.46 1180.58 L600.69 1175.87 L600.93 1170.67 L601.16 1165 L601.39 1158.89 L601.62 1152.46 L601.85 1145.9 L602.08 1139.53 L602.31 1133.82 L602.55 1129.44 L602.78 1127.41 L603.01 1129.44 L603.24 1133.82 L603.47 1139.53 L603.7 1145.9 L603.94 1152.46 L604.17 1158.89 L604.4 1165 L604.63 1170.67 L604.86 1175.87 L605.09 1180.58 L605.32 1184.83 L605.56 1188.66 L605.79 1192.09 L606.02 1195.17 L606.25 1197.93 L606.48 1200.42 L606.71 1202.65 L606.94 1204.67 L607.18 1206.49 L607.41 1208.14 L607.64 1209.63 L607.87 1210.99 L608.1 1212.24 L608.33 1213.37 L608.56 1214.41 L608.8 1215.36 L609.03 1216.24 L609.26 1217.05 L609.49 1217.79 L609.72 1218.48 L609.95 1219.12 L610.19 1219.72 L610.42 1220.27 L610.65 1220.78 L610.88 1221.26 L611.11 1221.71 L611.34 1222.13 L611.57 1222.52 L611.81 1222.89 L612.04 1223.24 L612.27 1223.57 L612.5 1223.87 L612.73 1224.16 L612.96 1224.44 L613.19 1224.7 L613.43 1224.94 L613.66 1225.17 L613.89 1225.39 L614.81 1226.17 L615.74 1226.81 L616.67 1227.34 L617.59 1227.6 L1184.44 1227.6 L1185.37 1227.57 L1186.3 1227.3 L1187.22 1226.96 L1187.45 1226.86 L1187.69 1226.76 L1187.92 1226.65 L1188.15 1226.53 L1188.38 1226.41 L1188.61 1226.27 L1188.84 1226.13 L1189.07 1225.98 L1189.31 1225.82 L1189.54 1225.65 L1189.77 1225.46 L1190 1225.26 L1190.23 1225.05 L1190.46 1224.82 L1190.69 1224.57 L1190.93 1224.3 L1191.16 1224.01 L1191.39 1223.69 L1191.62 1223.35 L1191.85 1222.97 L1192.08 1222.57 L1192.31 1222.12 L1192.55 1221.63 L1192.78 1221.1 L1193.01 1220.51 L1193.24 1219.87 L1193.47 1219.16 L1193.7 1218.37 L1193.94 1217.51 L1194.17 1216.55 L1194.4 1215.48 L1194.63 1214.31 L1194.86 1213 L1195.09 1211.56 L1195.32 1209.97 L1195.56 1208.22 L1195.79 1206.31 L1196.02 1204.23 L1196.25 1202 L1196.48 1199.64 L1196.71 1197.19 L1196.94 1194.71 L1197.18 1192.3 L1197.41 1190.06 L1197.64 1188.13 L1197.87 1186.62 L1198.1 1185.67 L1198.33 1185.34 L1198.56 1185.67 L1198.8 1186.62 L1199.03 1188.13 L1199.26 1190.06 L1199.49 1192.3 L1199.72 1194.71 L1199.95 1197.19 L1200.19 1199.64 L1200.42 1202 L1200.65 1204.23 L1200.88 1206.31 L1201.11 1208.22 L1201.34 1209.97 L1201.57 1211.56 L1201.81 1213 L1202.04 1214.31 L1202.27 1215.48 L1202.5 1216.55 L1202.73 1217.51 L1202.96 1218.37 L1203.19 1219.16 L1203.43 1219.87 L1203.66 1220.51 L1203.89 1221.1 L1204.12 1221.63 L1204.35 1222.12 L1204.58 1222.57 L1204.81 1222.97 L1205.05 1223.35 L1205.28 1223.69 L1205.51 1224.01 L1205.74 1224.3 L1205.97 1224.57 L1206.2 1224.82 L1206.44 1225.05 L1206.67 1225.26 L1206.9 1225.46 L1207.13 1225.65 L1207.36 1225.82 L1207.59 1225.98 L1207.82 1226.13 L1208.06 1226.27 L1208.29 1226.41 L1208.52 1226.53 L1208.75 1226.65 L1208.98 1226.76 L1209.21 1226.86 L1209.44 1226.96 L1210.37 1227.3 L1211.3 1227.57 L1212.22 1227.6 L1563.8 1227.6 L1564.72 1227.44 L1565.65 1227.24 L1566.57 1227.01 L1567.5 1226.73 L1568.43 1226.4 L1569.35 1226 L1570.28 1225.51 L1570.51 1225.38 L1570.74 1225.23 L1570.97 1225.07 L1571.2 1224.91 L1571.44 1224.74 L1571.67 1224.55 L1571.9 1224.36 L1572.13 1224.15 L1572.36 1223.93 L1572.59 1223.69 L1572.82 1223.44 L1573.06 1223.18 L1573.29 1222.89 L1573.52 1222.59 L1573.75 1222.26 L1573.98 1221.91 L1574.21 1221.54 L1574.44 1221.14 L1574.68 1220.71 L1574.91 1220.24 L1575.14 1219.74 L1575.37 1219.21 L1575.6 1218.63 L1575.83 1218 L1576.06 1217.32 L1576.3 1216.59 L1576.53 1215.8 L1576.76 1214.94 L1576.99 1214.01 L1577.22 1213.01 L1577.45 1211.93 L1577.69 1210.76 L1577.92 1209.51 L1578.15 1208.16 L1578.38 1206.72 L1578.61 1205.19 L1578.84 1203.58 L1579.07 1201.9 L1579.31 1200.16 L1579.54 1198.39 L1579.77 1196.63 L1580 1194.9 L1580.23 1193.28 L1580.46 1191.81 L1580.69 1190.55 L1580.93 1189.58 L1581.16 1188.95 L1581.39 1188.72 L1581.62 1188.95 L1581.85 1189.58 L1582.08 1190.55 L1582.31 1191.81 L1582.55 1193.28 L1582.78 1194.9 L1583.01 1196.63 L1583.24 1198.39 L1583.47 1200.16 L1583.7 1201.9 L1583.94 1203.58 L1584.17 1205.19 L1584.4 1206.72 L1584.63 1208.16 L1584.86 1209.51 L1585.09 1210.76 L1585.32 1211.93 L1585.56 1213.01 L1585.79 1214.01 L1586.02 1214.94 L1586.25 1215.8 L1586.48 1216.59 L1586.71 1217.32 L1586.94 1218 L1587.18 1218.63 L1587.41 1219.21 L1587.64 1219.74 L1587.87 1220.24 L1588.1 1220.71 L1588.33 1221.14 L1588.56 1221.54 L1588.8 1221.91 L1589.03 1222.26 L1589.26 1222.59 L1589.49 1222.89 L1589.72 1223.18 L1589.95 1223.44 L1590.19 1223.69 L1590.42 1223.93 L1590.65 1224.15 L1590.88 1224.36 L1591.11 1224.55 L1591.34 1224.74 L1591.57 1224.91 L1591.81 1225.07 L1592.04 1225.23 L1592.27 1225.38 L1592.5 1225.51 L1593.43 1226 L1594.35 1226.4 L1595.28 1226.73 L1596.2 1227.01 L1597.13 1227.24 L1598.06 1227.44 L1598.98 1227.6 L1685.19 1227.6 L1686.11 1227.6 L1687.04 1227.53 L1687.96 1227.45 L1688.89 1227.36 L1689.81 1227.25 L1690.74 1227.13 L1691.67 1226.97 L1692.59 1226.78 L1692.82 1226.72 L1693.06 1226.67 L1693.29 1226.61 L1693.52 1226.54 L1693.75 1226.47 L1693.98 1226.4 L1694.21 1226.33 L1694.44 1226.25 L1694.68 1226.16 L1694.91 1226.07 L1695.14 1225.97 L1695.37 1225.87 L1695.6 1225.76 L1695.83 1225.64 L1696.06 1225.51 L1696.3 1225.38 L1696.53 1225.23 L1696.76 1225.08 L1696.99 1224.91 L1697.22 1224.73 L1697.45 1224.53 L1697.69 1224.33 L1697.92 1224.1 L1698.15 1223.86 L1698.38 1223.59 L1698.61 1223.31 L1698.84 1223 L1699.07 1222.67 L1699.31 1222.31 L1699.54 1221.92 L1699.77 1221.49 L1700 1221.04 L1700.23 1220.54 L1700.46 1220.01 L1700.69 1219.45 L1700.93 1218.84 L1701.16 1218.2 L1701.39 1217.53 L1701.62 1216.83 L1701.85 1216.12 L1702.08 1215.4 L1702.31 1214.7 L1702.55 1214.02 L1702.78 1213.41 L1703.01 1212.88 L1703.24 1212.47 L1703.47 1212.19 L1703.7 1212.09 L1703.94 1212.19 L1704.17 1212.47 L1704.4 1212.88 L1704.63 1213.41 L1704.86 1214.02 L1705.09 1214.7 L1705.32 1215.4 L1705.56 1216.12 L1705.79 1216.83 L1706.02 1217.53 L1706.25 1218.2 L1706.48 1218.84 L1706.71 1219.45 L1706.94 1220.01 L1707.18 1220.54 L1707.41 1221.04 L1707.64 1221.49 L1707.87 1221.92 L1708.1 1222.31 L1708.33 1222.67 L1708.56 1223 L1708.8 1223.31 L1709.03 1223.59 L1709.26 1223.86 L1709.49 1224.1 L1709.72 1224.33 L1709.95 1224.53 L1710.19 1224.73 L1710.42 1224.91 L1710.65 1225.08 L1710.88 1225.23 L1711.11 1225.38 L1711.34 1225.51 L1711.57 1225.64 L1711.81 1225.76 L1712.04 1225.87 L1712.27 1225.97 L1712.5 1226.07 L1712.73 1226.16 L1712.96 1226.25 L1713.19 1226.33 L1713.43 1226.4 L1713.66 1226.47 L1713.89 1226.54 L1714.12 1226.61 L1714.35 1226.67 L1714.58 1226.72 L1714.81 1226.78 L1715.74 1226.97 L1716.67 1227.13 L1717.59 1227.25 L1718.52 1227.36 L1719.44 1227.45 L1720.37 1227.53 L1721.3 1227.6 L1722.22 1227.6 L1958.52 1227.6" fill="none" stroke="#7a2239" stroke-width="10.4" stroke-linejoin="miter" stroke-miterlimit="3.0" stroke-linecap="butt" transform="scale(1.08 1)"/>
<text transform="matrix(0.86866 0 0 0.87600 1331.89 158.40)" fill="#000">JCPDS#04-0783 Ag</text>
<text transform="matrix(0 -0.80000 0.79500 0 475.40 297.80)" fill="#000">(111)</text>
<text transform="matrix(0 -0.90892 0.89000 0 682.40 440.79)" fill="#000">(200)</text>
<text transform="matrix(0 -0.81687 0.80500 0 1322.00 473.28)" fill="#000">(220)</text>
<text transform="matrix(0 -0.81349 0.80500 0 1734.00 483.36)" fill="#000">(311)</text>
<text transform="matrix(0 -0.80867 0.79700 0 1864.20 504.04)" fill="#000">(222)</text>
<text transform="matrix(0.79362 0 0 0.75200 1669.02 597.30)" fill="#068080">glutaric acid</text>
<text transform="matrix(0.79219 0 0 0.78000 1665.42 746.80)" fill="#1366aa">succinic acid</text>
<text transform="matrix(0.79357 0 0 0.76200 1708.72 954.10)" fill="#ee363e">stearic acid</text>
<text transform="matrix(0.85263 0 0 0.81500 1848.47 1309.40)" fill="#7a2239">gelatin</text>
<text transform="matrix(0 -0.93355 0.93000 0 94.20 1050.77)" fill="#000">Intensity (a.u.)</text>
<text transform="matrix(0.93608 0 0 0.91500 925.66 1694.30)" fill="#000">2θ (Degree)</text>
<text transform="matrix(0.90217 0 0 0.90400 153.29 1579.70)" fill="#000">30</text>
<text transform="matrix(0.83280 0 0 0.90400 475.95 1579.70)" fill="#000">40</text>
<text transform="matrix(0.87609 0 0 0.90400 793.50 1579.70)" fill="#000">50</text>
<text transform="matrix(0.87027 0 0 0.90400 1113.35 1579.70)" fill="#000">60</text>
<text transform="matrix(0.89282 0 0 0.90400 1430.69 1579.70)" fill="#000">70</text>
<text transform="matrix(0.88216 0 0 0.90400 1751.21 1579.70)" fill="#000">80</text>
<text transform="matrix(0.88495 0 0 0.90400 2070.45 1579.70)" fill="#000">90</text>
</svg>
</body>
</html>
